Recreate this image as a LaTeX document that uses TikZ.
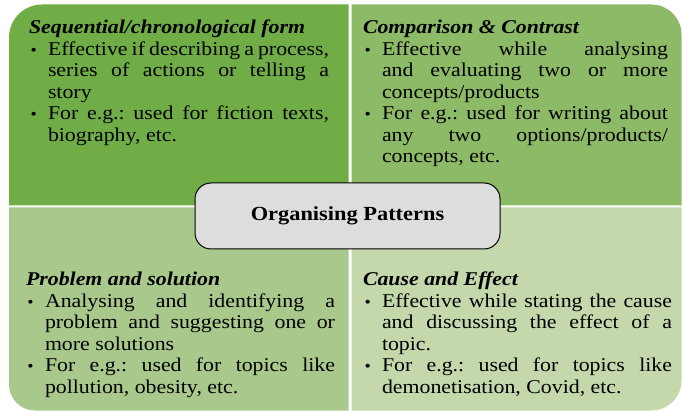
\documentclass[tikz,border=0pt]{standalone}
\usepackage{fontspec}
\setmainfont{Liberation Serif}[FakeStretch=1.12]
\definecolor{qtl}{HTML}{70AD47}
\definecolor{qtr}{HTML}{8DBA66}
\definecolor{qbl}{HTML}{A9C98C}
\definecolor{qbr}{HTML}{C4D8AC}
\definecolor{cbox}{HTML}{DDDDDD}
\newcommand{\qsetup}{\fontsize{19.5}{21.5}\selectfont\frenchspacing\tolerance=10000 \hyphenpenalty=10000 \emergencystretch=20pt\relax}
\newcommand{\bul}[1]{\par\noindent\hangindent=19pt\hangafter=1\makebox[19pt][l]{\hspace{1.5pt}{\fontsize{16}{16}\selectfont\textbullet}}#1\par}
\newcommand{\hd}[1]{\noindent{\fontsize{19.5}{21.5}\selectfont\bfseries\itshape\rule{0pt}{15pt}#1}\par}
\tikzset{
  quadtext/.style={anchor=north west, inner sep=0pt, outer sep=0pt, align=justify},
  centerbox/.style={draw=black, line width=1pt, fill=cbox, rounded corners=16pt,
    minimum width=305pt, minimum height=66pt, inner sep=0pt,
    font=\fontsize{20}{24}\selectfont\bfseries}
}
\begin{document}
\begin{tikzpicture}[x=1pt,y=-1pt]
\useasboundingbox (0,0) rectangle (682,411);
% quadrants
\fill[qtl] (9,205.5) [rounded corners=33pt] -- (9,4.5) [sharp corners] -- (348.5,4.5) -- (348.5,205.5) -- cycle;
\fill[qtr] (351.5,205.5) -- (351.5,4.5) [rounded corners=30pt] -- (681.5,4.5) [sharp corners] -- (681.5,205.5) -- cycle;
\fill[qbl] (9,207.5) [rounded corners=26pt] -- (9,410.5) [sharp corners] -- (348.5,410.5) -- (348.5,207.5) -- cycle;
\fill[qbr] (351.5,207.5) -- (351.5,410.5) [rounded corners=30pt] -- (681.5,410.5) [sharp corners] -- (681.5,207.5) -- cycle;
% texts
\node[quadtext, text width=300pt] (seq) at (29,19) {\qsetup
\hd{Sequential/chronological form}
\bul{Effective if describing a process,\linebreak series of actions or telling a\linebreak story}
\bul{For e.g.: used for fiction texts,\linebreak biography, etc.}};
\node[quadtext, text width=305pt] (cmp) at (363,19) {\qsetup
\hd{Comparison \& Contrast}
\bul{Effective while analysing\linebreak and evaluating two or more\linebreak concepts/products}
\bul{For e.g.: used for writing about\linebreak any two options/products/\linebreak concepts, etc.}};
\node[quadtext, text width=309pt] (prb) at (26,271) {\qsetup
\hd{Problem and solution}
\bul{Analysing and identifying a\linebreak problem and suggesting one or\linebreak more solutions}
\bul{For e.g.: used for topics like\linebreak pollution, obesity, etc.}};
\node[quadtext, text width=309pt] (cau) at (363,271) {\qsetup
\hd{Cause and Effect}
\bul{Effective while stating the cause\linebreak and discussing the effect of a\linebreak topic.}
\bul{For e.g.: used for topics like\linebreak demonetisation, Covid, etc.}};
% center
\node[centerbox] (center) at (347.5,216) {Organising Patterns};
\end{tikzpicture}
\end{document}
